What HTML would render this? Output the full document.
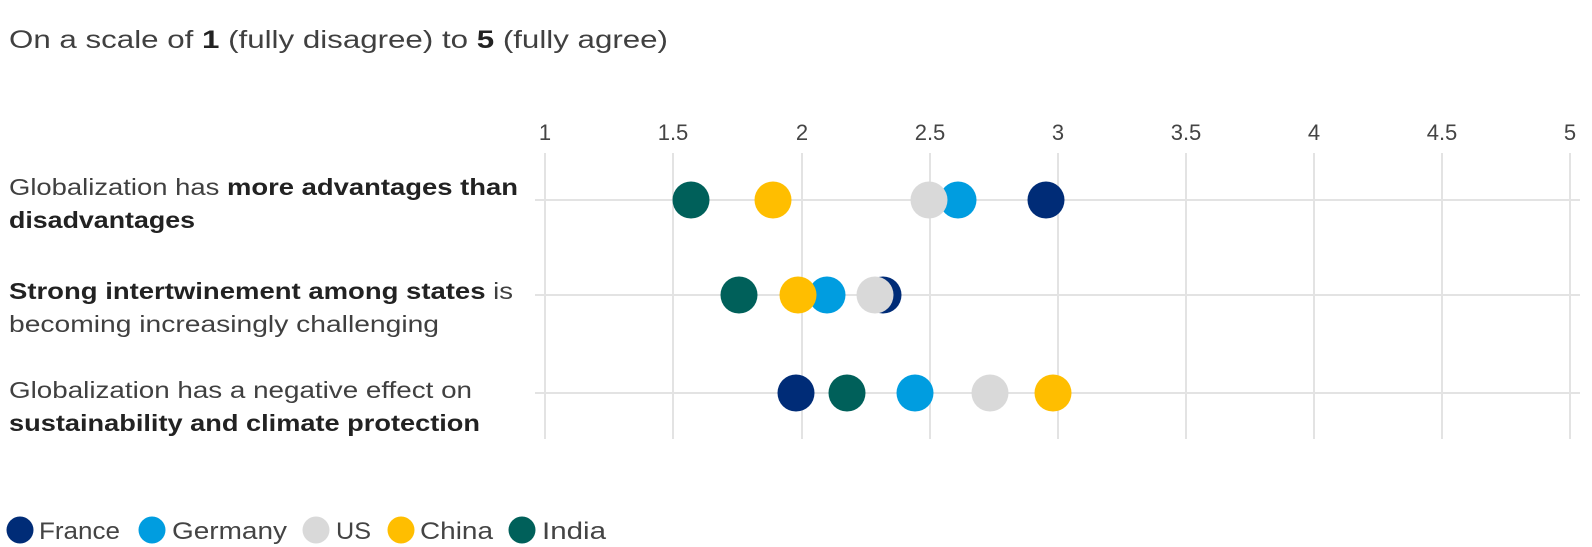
<!DOCTYPE html>
<html><head><meta charset="utf-8"><style>
html,body{margin:0;padding:0;background:#fff;}
svg{display:block;font-family:"Liberation Sans",sans-serif;}
</style></head><body>
<svg width="1592" height="547" viewBox="0 0 1592 547">
<text x="9" y="48" font-size="25" fill="#404040" textLength="659" lengthAdjust="spacingAndGlyphs">On a scale of <tspan font-weight="bold" fill="#222">1</tspan> (fully disagree) to <tspan font-weight="bold" fill="#222">5</tspan> (fully agree)</text>
<g stroke="#e3e3e3" stroke-width="2">
<line x1="545" y1="153" x2="545" y2="439"/><line x1="673" y1="153" x2="673" y2="439"/>
<line x1="802" y1="153" x2="802" y2="439"/><line x1="930" y1="153" x2="930" y2="439"/>
<line x1="1058" y1="153" x2="1058" y2="439"/><line x1="1186" y1="153" x2="1186" y2="439"/>
<line x1="1314" y1="153" x2="1314" y2="439"/><line x1="1442" y1="153" x2="1442" y2="439"/>
<line x1="1570" y1="153" x2="1570" y2="439"/>
<line x1="535" y1="200" x2="1580" y2="200"/><line x1="535" y1="295" x2="1580" y2="295"/><line x1="535" y1="393" x2="1580" y2="393"/>
</g>
<g font-size="22" fill="#444" text-anchor="middle">
<text x="545" y="140">1</text><text x="673" y="140">1.5</text><text x="802" y="140">2</text><text x="930" y="140">2.5</text><text x="1058" y="140">3</text><text x="1186" y="140">3.5</text><text x="1314" y="140">4</text><text x="1442" y="140">4.5</text><text x="1570" y="140">5</text>
</g>
<g font-size="23" fill="#404040" lengthAdjust="spacingAndGlyphs">
<text x="9" y="195" textLength="509" lengthAdjust="spacingAndGlyphs">Globalization has <tspan font-weight="bold" fill="#222">more advantages than</tspan></text>
<text x="9" y="228" font-weight="bold" fill="#222" textLength="186" lengthAdjust="spacingAndGlyphs">disadvantages</text>
<text x="9" y="299" textLength="504" lengthAdjust="spacingAndGlyphs"><tspan font-weight="bold" fill="#222">Strong intertwinement among states</tspan> is</text>
<text x="9" y="332" textLength="430" lengthAdjust="spacingAndGlyphs">becoming increasingly challenging</text>
<text x="9" y="398" textLength="463" lengthAdjust="spacingAndGlyphs">Globalization has a negative effect on</text>
<text x="9" y="431" font-weight="bold" fill="#222" textLength="471" lengthAdjust="spacingAndGlyphs">sustainability and climate protection</text>
</g>
<g>
<circle cx="1046" cy="200" r="18.5" fill="#002c77"/>
<circle cx="958" cy="200" r="18.5" fill="#009de0"/>
<circle cx="929" cy="200" r="18.5" fill="#d9d9d9"/>
<circle cx="773" cy="200" r="18.5" fill="#ffbe00"/>
<circle cx="691" cy="200" r="18.5" fill="#00605a"/>
<circle cx="883" cy="295" r="18.5" fill="#002c77"/>
<circle cx="827" cy="295" r="18.5" fill="#009de0"/>
<circle cx="875" cy="295" r="18.5" fill="#d9d9d9"/>
<circle cx="798" cy="295" r="18.5" fill="#ffbe00"/>
<circle cx="739" cy="295" r="18.5" fill="#00605a"/>
<circle cx="796" cy="393" r="18.5" fill="#002c77"/>
<circle cx="915" cy="393" r="18.5" fill="#009de0"/>
<circle cx="990" cy="393" r="18.5" fill="#d9d9d9"/>
<circle cx="1053" cy="393" r="18.5" fill="#ffbe00"/>
<circle cx="847" cy="393" r="18.5" fill="#00605a"/>
</g>
<g font-size="24" fill="#444">
<circle cx="20" cy="530" r="13.5" fill="#002c77"/><text x="39" y="539" textLength="81" lengthAdjust="spacingAndGlyphs">France</text>
<circle cx="152" cy="530" r="13.5" fill="#009de0"/><text x="172" y="539" textLength="115" lengthAdjust="spacingAndGlyphs">Germany</text>
<circle cx="316" cy="530" r="13.5" fill="#d9d9d9"/><text x="336" y="539" textLength="35" lengthAdjust="spacingAndGlyphs">US</text>
<circle cx="401" cy="530" r="13.5" fill="#ffbe00"/><text x="420" y="539" textLength="73" lengthAdjust="spacingAndGlyphs">China</text>
<circle cx="522" cy="530" r="13.5" fill="#00605a"/><text x="542" y="539" textLength="64" lengthAdjust="spacingAndGlyphs">India</text>
</g>
</svg>
</body></html>
